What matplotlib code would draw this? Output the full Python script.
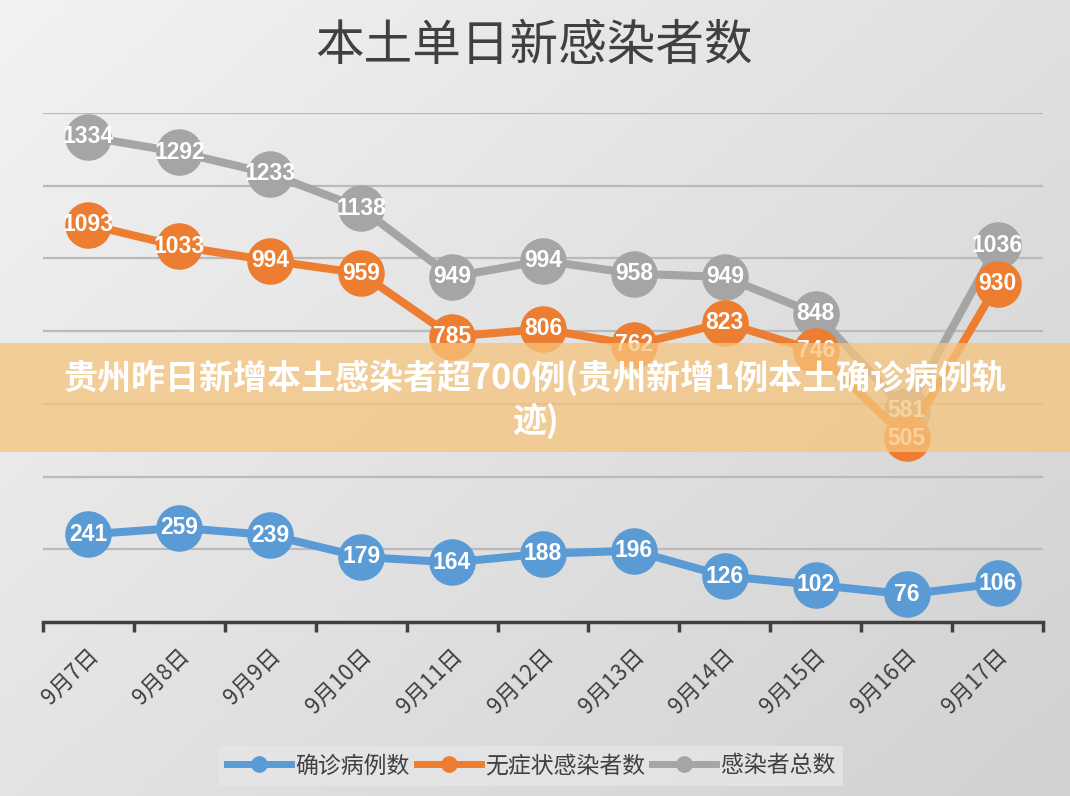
import numpy as np
import matplotlib
matplotlib.use("Agg")
import matplotlib.pyplot as plt
from matplotlib.patches import Rectangle
from matplotlib.lines import Line2D

plt.rcParams['font.family'] = ['Noto Sans CJK SC', 'DejaVu Sans']

dates = ["9月7日", "9月8日", "9月9日", "9月10日", "9月11日", "9月12日",
         "9月13日", "9月14日", "9月15日", "9月16日", "9月17日"]
confirmed = [241, 259, 239, 179, 164, 188, 196, 126, 102, 76, 106]
asymptomatic = [1093, 1033, 994, 959, 785, 806, 762, 823, 746, 505, 930]
total = [1334, 1292, 1233, 1138, 949, 994, 958, 949, 848, 581, 1036]
series_names = ["确诊病例数", "无症状感染者数", "感染者总数"]
title = "本土单日新感染者数"
banner = "贵州昨日新增本土感染者超700例(贵州新增1例本土确诊病例轨\n迹)"

c_blue, c_orange, c_gray = "#5B9BD5", "#ED7D31", "#A5A5A5"

W, H = 1070, 796
fig = plt.figure(figsize=(W / 100, H / 100), dpi=100)

# gradient background
bg = fig.add_axes([0, 0, 1, 1], zorder=-10)
yy, xx = np.mgrid[0:1:200j, 0:1:200j]
g = 0.95 - 0.13 * (0.55 * xx + 0.45 * yy)
bg.imshow(np.dstack([g, g, g]), aspect='auto', extent=[0, 1, 0, 1], origin='upper')
bg.axis('off')

ax = fig.add_axes([43 / W, 1 - 622 / H, 1000 / W, 509 / H])
ax.set_facecolor('none')
x = np.arange(len(dates))
ax.set_xlim(-0.5, len(dates) - 0.5)
ax.set_ylim(0, 1400)

for yv in range(200, 1401, 200):
    ax.axhline(yv, color="#bababa", lw=1.6, zorder=1)

ms = 32.5
lw = 5.8
for vals, col in [(total, c_gray), (asymptomatic, c_orange), (confirmed, c_blue)]:
    ax.plot(x, vals, color=col, lw=lw, marker='o', ms=ms, mec=col, mfc=col,
            zorder=3, solid_capstyle='round')
for vals in [total, asymptomatic, confirmed]:
    for xi, v in zip(x, vals):
        ax.text(xi, v, str(v), ha='center', va='center', color='white',
                fontsize=16.5, fontweight='bold', family='Liberation Sans', zorder=5)

for s in ['top', 'right', 'left']:
    ax.spines[s].set_visible(False)
ax.spines['bottom'].set_color('#404040')
ax.spines['bottom'].set_linewidth(2.5)
ax.set_yticks([])
ax.set_xticks(np.arange(-0.5, len(dates), 1.0))
ax.set_xticklabels([])
ax.tick_params(axis='x', length=7, width=2.5, color='#404040')
for xi, d in zip(x, dates):
    ax.text(xi - 0.02, -60, d, rotation=45, rotation_mode='anchor', ha='right', va='top',
            fontsize=16, color='#404040')

fig.text(534 / W, 1 - 46 / H, title, ha='center', va='center', fontsize=35, color='#404040')

handles = [Line2D([], [], color=c, lw=5, marker='o', ms=11) for c in (c_blue, c_orange, c_gray)]
leg = fig.legend(handles, series_names, loc='center', bbox_to_anchor=(531 / W, 1 - 766 / H),
                 ncol=3, frameon=True, fontsize=16.5, handlelength=2.8, columnspacing=0.3,
                 handletextpad=0.2, borderpad=0.35, fancybox=False)
leg.get_frame().set_facecolor('#e6e6e6')
leg.get_frame().set_edgecolor('none')
for t in leg.get_texts():
    t.set_color('#404040')

fig.add_artist(Rectangle((0, 1 - 452 / H), 1, 109 / H, transform=fig.transFigure,
                         facecolor='#f7c47c', alpha=0.75, edgecolor='none', zorder=20))
fig.text(0.5, 1 - 399 / H, banner, ha='center', va='center', fontsize=24.5,
         fontweight='bold', color='white', linespacing=1.25, zorder=21)

fig.savefig("out.png", dpi=100)
